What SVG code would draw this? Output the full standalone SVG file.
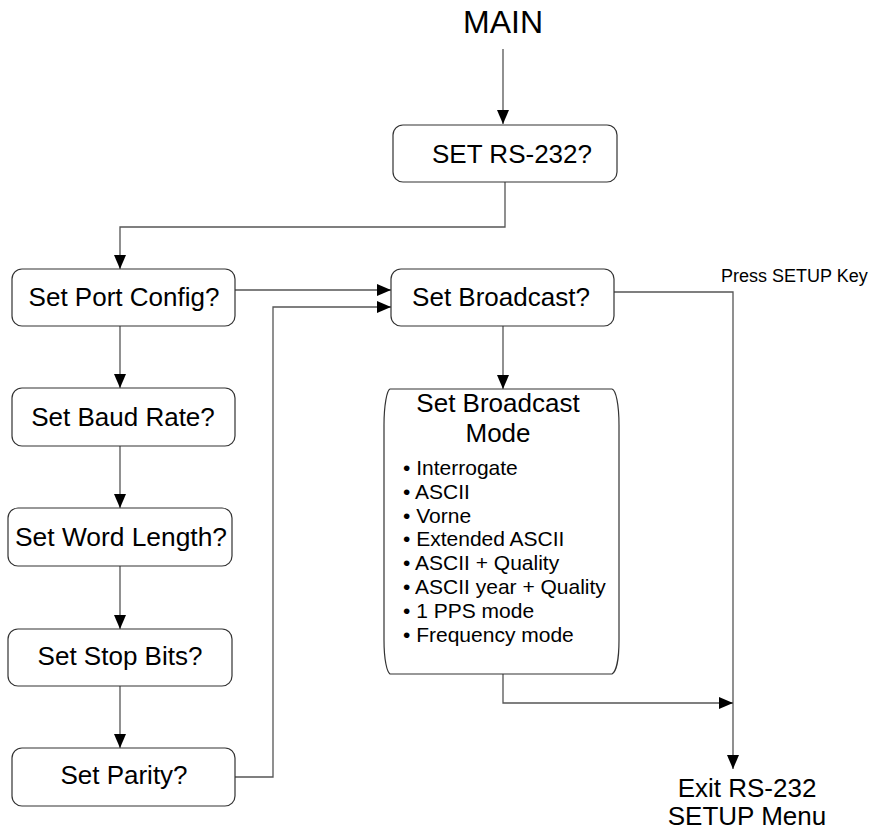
<svg xmlns="http://www.w3.org/2000/svg" width="877" height="830" viewBox="0 0 877 830">
<style>
text{font-family:"Liberation Sans",Arial,sans-serif;fill:#000}
.t{font-size:26px;text-anchor:middle}
.b{font-size:21px}
.box{fill:#fff;stroke:#333;stroke-width:1.2}
.ln{fill:none;stroke:#555;stroke-width:1.3}
</style>
<defs>
<marker id="ah" markerWidth="14" markerHeight="12" refX="14" refY="6" orient="auto" markerUnits="userSpaceOnUse">
<path d="M0,0 L14,6 L0,12 z" fill="#000"/>
</marker>
</defs>
<rect width="877" height="830" fill="#fff"/>
<g id="connectors">
<path class="ln" d="M503,49 L503,124" marker-end="url(#ah)"/>
<path class="ln" d="M505,182 L505,227 L120,227 L120,269" marker-end="url(#ah)"/>
<path class="ln" d="M120,326 L120,388" marker-end="url(#ah)"/>
<path class="ln" d="M120,446 L120,508" marker-end="url(#ah)"/>
<path class="ln" d="M120,566 L120,629" marker-end="url(#ah)"/>
<path class="ln" d="M120,686 L120,748" marker-end="url(#ah)"/>
<path class="ln" d="M235,290 L391,290" marker-end="url(#ah)"/>
<path class="ln" d="M235,777 L273,777 L273,307 L391,307" marker-end="url(#ah)"/>
<path class="ln" d="M503,326 L503,389" marker-end="url(#ah)"/>
<path class="ln" d="M614,292 L733,292 L733,769" marker-end="url(#ah)"/>
<path class="ln" d="M503,674 L503,703 L733,703" marker-end="url(#ah)"/>
</g>
<g id="main"><text class="t" x="503" y="33" style="font-size:32px">MAIN</text></g>
<g id="set-rs232">
<rect class="box" x="393" y="125" width="224" height="57" rx="10"/>
<text class="t" x="512" y="163">SET RS-232?</text>
</g>
<g id="port-config">
<rect class="box" x="12" y="269" width="223" height="57" rx="10"/>
<text class="t" x="124" y="306">Set Port Config?</text>
</g>
<g id="baud-rate">
<rect class="box" x="12" y="388" width="223" height="58" rx="10"/>
<text class="t" x="123" y="426">Set Baud Rate?</text>
</g>
<g id="word-length">
<rect class="box" x="8" y="508" width="224" height="58" rx="10"/>
<text class="t" x="121" y="546" textLength="212" lengthAdjust="spacingAndGlyphs">Set Word Length?</text>
</g>
<g id="stop-bits">
<rect class="box" x="8" y="629" width="224" height="57" rx="10"/>
<text class="t" x="120" y="665">Set Stop Bits?</text>
</g>
<g id="parity">
<rect class="box" x="12" y="748" width="223" height="58" rx="10"/>
<text class="t" x="124" y="784">Set Parity?</text>
</g>
<g id="broadcast">
<rect class="box" x="391" y="269" width="223" height="57" rx="10"/>
<text class="t" x="501" y="306">Set Broadcast?</text>
</g>
<g id="broadcast-mode">
<path class="box" d="M390,389 L612,389 C616,390 619,405 619,425 L619,640 C619,660 616,672 612,674 L390,674 C387,672 384,660 384,640 L384,425 C384,405 387,390 390,389 Z"/>
<text class="t" x="498" y="412">Set Broadcast</text>
<text class="t" x="498" y="442">Mode</text>
<text class="b" x="403" y="475">• Interrogate</text>
<text class="b" x="403" y="499">• ASCII</text>
<text class="b" x="403" y="523">• Vorne</text>
<text class="b" x="403" y="546">• Extended ASCII</text>
<text class="b" x="403" y="570">• ASCII + Quality</text>
<text class="b" x="403" y="594">• ASCII year + Quality</text>
<text class="b" x="403" y="618">• 1 PPS mode</text>
<text class="b" x="403" y="642">• Frequency mode</text>
</g>
<g id="press-setup"><text x="721" y="282" style="font-size:18px">Press SETUP Key</text></g>
<g id="exit">
<text class="t" x="747" y="797">Exit RS-232</text>
<text class="t" x="747" y="825">SETUP Menu</text>
</g>
</svg>
